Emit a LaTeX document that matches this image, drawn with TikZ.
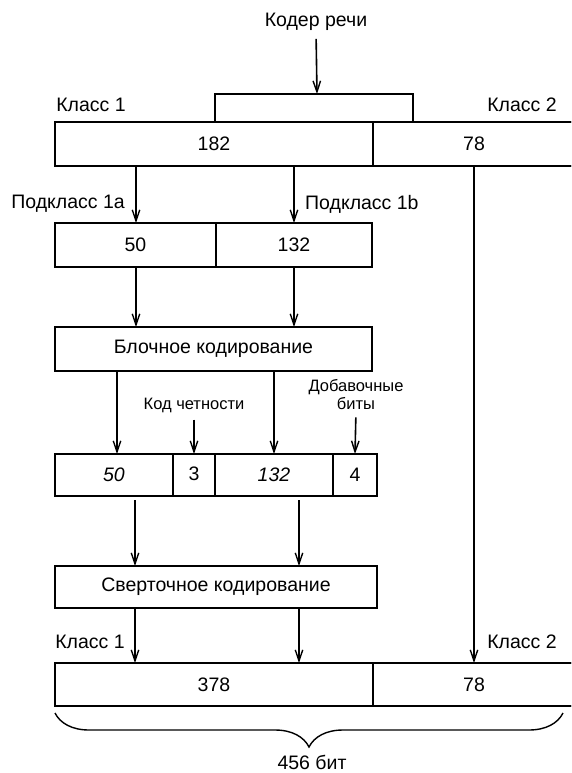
\documentclass[tikz,border=0pt]{standalone}
\usepackage{fontspec}
\setmainfont{Liberation Sans}
\usetikzlibrary{arrows.meta,decorations.pathreplacing,calc}
\begin{document}
\begin{tikzpicture}[x=1pt,y=1pt,
  cell/.style={draw, line width=1.2pt, inner sep=0pt, outer sep=0pt, font=\fontsize{19.5}{21}\selectfont},
  thickcell/.style={cell, line width=1.9pt},
  frame/.style={line width=2.2pt},
  arr/.style={line width=1.6pt, -{Straight Barb[length=11pt,width=7.5pt,line width=1.4pt]}},
  lbl/.style={inner sep=0pt, font=\fontsize{19.5}{21}\selectfont},
  small/.style={inner sep=0pt, font=\fontsize{16.5}{18}\selectfont, align=center},
]
\useasboundingbox (0,0) rectangle (571,-773);
\clip (0,0) rectangle (571,-773);

% speech coder and bracket
\node[lbl] (coder) at (316,-22) {Кодер речи};
\coordinate (brtop) at (317,-94);
\coordinate (bl) at (215,-122);
\coordinate (br) at (413,-122);

% top frame
\node[cell, minimum width=318pt, minimum height=44pt] (t1) at (214,-144) {182};
\node[cell, minimum width=202pt, minimum height=44pt] (t2) at (474,-144) {78};
\draw[frame] (t1.north west) rectangle (t2.south east);
\draw[line width=1.5pt] (bl) |- (brtop) -| (br);
\draw[arr, shorten <=8pt] (coder.south) -- (brtop);
\node[lbl] (k1) at (91,-105) {Класс 1};
\node[lbl] (k2) at (522,-105) {Класс 2};

% subclasses
\node[cell, minimum width=161pt, minimum height=44pt] (s50) at (135.5,-245) {50};
\node[cell, minimum width=156pt, minimum height=44pt] (s132) at (294,-245) {132};
\draw[frame] (s50.north west) rectangle (s132.south east);
\node[lbl, anchor=east] (p1a) at (125,-204) {Подкласс 1a};
\node[lbl, anchor=west] (p1b) at (305,-204) {Подкласс 1b};

% x positions of connectors
\coordinate (x0) at (136,0);
\coordinate (x1) at (117,0);
\coordinate (x3) at (135,0);
\coordinate (x4) at (299,0);

% block coding
\node[thickcell, line width=2.2pt, minimum width=317pt, minimum height=44pt] (block) at (213.5,-349) {Блочное кодирование};

% after block coding
\node[thickcell, minimum width=118pt, minimum height=42pt] (c50) at (114,-475) {\itshape 50};
\node[thickcell, minimum width=42pt, minimum height=42pt] (c3) at (194,-475) {\raisebox{2pt}{3}};
\node[thickcell, minimum width=118pt, minimum height=42pt] (c132) at (274,-475) {\itshape 132};
\node[thickcell, minimum width=44pt, minimum height=42pt] (c4) at (355,-475) {4};
\draw[frame] (c50.north west) rectangle (c4.south east);
\node[small] (parity) at (194,-405) {Код четности};
\node[small] (tail) at (356,-395) {Добавочные\\биты};

% convolutional coding
\node[thickcell, line width=2.2pt, minimum width=322pt, minimum height=42pt] (conv) at (216,-587) {Сверточное кодирование};

% output frame
\node[cell, minimum width=318pt, minimum height=43pt] (b378) at (214,-684.5) {378};
\node[cell, minimum width=202pt, minimum height=43pt] (b78) at (474,-684.5) {78};
\draw[frame] (b378.north west) rectangle (b78.south east);
\node[lbl] (k1b) at (90,-642) {Класс 1};
\node[lbl] (k2b) at (522,-642) {Класс 2};

% connectors
\draw[arr] (t1.south -| x0) -- (s50.north -| x0);
\draw[arr] (t1.south -| s132) -- (s132.north);
\draw[arr] (t2.south -| b78) -- (b78.north);
\draw[arr] (s50.south -| x0) -- (block.north -| x0);
\draw[arr] (s132.south) -- (block.north -| s132);
\draw[arr] (block.south -| x1) -- (c50.north -| x1);
\draw[arr] (block.south -| c132) -- (c132.north);
\draw[arr, shorten <=7pt] (parity.south) -- (c3.north);
\draw[arr, shorten <=7pt] (tail.south) -- (c4.north);
\draw[arr, shorten <=4pt] (c50.south -| x3) -- (conv.north -| x3);
\draw[arr, shorten <=4pt] (c132.south -| x4) -- (conv.north -| x4);
\draw[arr] (conv.south -| x3) -- (b378.north -| x3);
\draw[arr] (conv.south -| x4) -- (b378.north -| x4);

% brace
\coordinate (bra) at (55,-713);
\coordinate (brb) at (563,-713);
\draw[line width=1.4pt, decorate, decoration={brace, mirror, amplitude=34pt}] (bra) -- (brb);
\node[lbl] (total) at (312,-762) {456 бит};
\end{tikzpicture}
\end{document}
